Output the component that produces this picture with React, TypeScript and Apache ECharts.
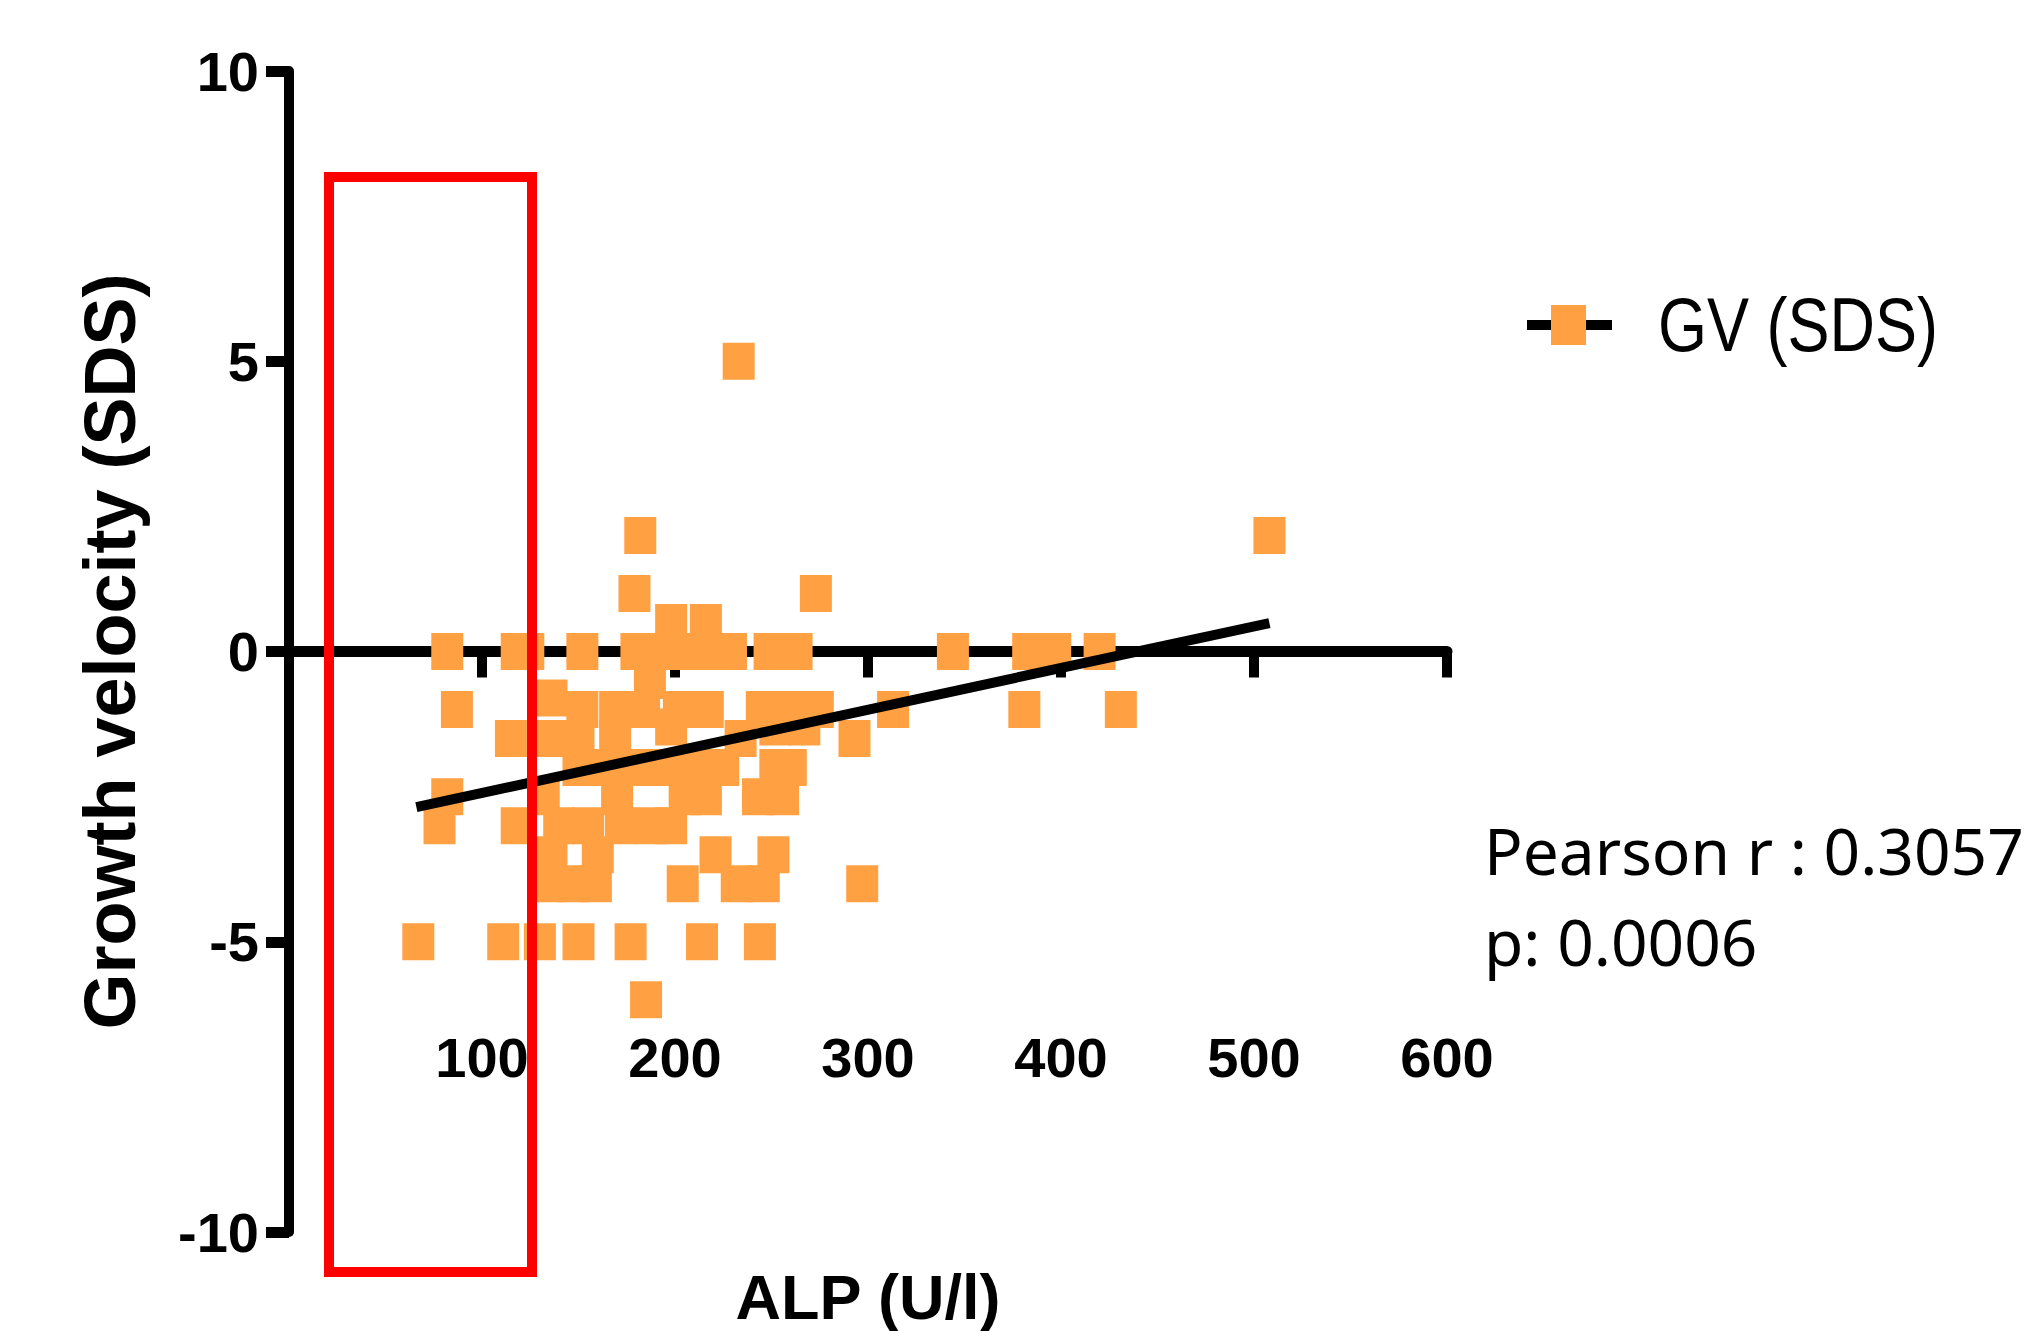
import React, { useEffect, useRef } from 'react';
import * as echarts from 'echarts';

// Axis ranges / ticks
const xTickValues = [0, 100, 200, 300, 400, 500, 600];
const yTickValues = [-10, -5, 0, 5, 10];

// Scatter data, grouped by GV (SDS) level: ALP values at each level
const gvLevels = [5, 2, 1, 0.5, 0, -0.5, -0.8, -1, -1.3, -1.5, -2, -2.5, -3, -3.5, -4, -5, -6];
const alpAtLevel = [
  [233],
  [182, 508],
  [179, 273],
  [198, 216],
  [82, 118, 124, 152, 180, 190, 202, 215, 229, 249, 263, 344, 383, 397, 420],
  [187],
  [136],
  [87, 152, 169, 184, 202, 217, 245, 259, 274, 313, 381, 431],
  [198, 252, 267],
  [115, 136, 150, 169, 234, 293],
  [150, 166, 182, 198, 214, 225, 252, 260],
  [82, 132, 170, 205, 216, 243, 256],
  [78, 118, 140, 155, 172, 188, 198],
  [136, 160, 221, 251],
  [135, 147, 159, 204, 232, 246, 297],
  [67, 111, 130, 150, 177, 214, 244],
  [185],
];

// Linear regression line end points
const fitAlp = [66, 508];
const fitGv = [-2.68, 0.49];

const seriesName = 'GV (SDS)';
const statsLines = ['Pearson r : 0.3057', 'p: 0.0006'];

const ORANGE = '#FFA143';
const SANS = "'Liberation Sans', Arial, sans-serif";

export default function App() {
  const ref = useRef<HTMLDivElement>(null);

  useEffect(() => {
    if (!ref.current) return;
    const chart = echarts.init(ref.current, null, { renderer: 'svg' });

    const scatterData: number[][] = [];
    gvLevels.forEach((g, i) => {
      alpAtLevel[i].forEach((a) => scatterData.push([a, g]));
    });
    const fitData = fitAlp.map((a, i) => [a, fitGv[i]]);

    chart.setOption({
      animation: false,
      backgroundColor: '#ffffff',
      grid: {
        left: 289,
        right: 582,
        top: 71,
        bottom: 99,
        containLabel: false,
        outerBoundsMode: 'none',
      },
      xAxis: {
        type: 'value',
        min: xTickValues[0],
        max: xTickValues[xTickValues.length - 1],
        interval: 100,
        axisLine: { show: true, onZero: true, lineStyle: { color: '#000', width: 11 } },
        axisTick: { show: true, length: 26, lineStyle: { color: '#000', width: 10 } },
        axisLabel: {
          showMinLabel: false,
          margin: -203,
          color: '#000',
          fontFamily: SANS,
          fontWeight: 'bold',
          fontSize: 56,
        },
        splitLine: { show: false },
        name: 'ALP (U/l)',
        nameLocation: 'middle',
        nameGap: 33,
        nameTextStyle: { color: '#000', fontFamily: SANS, fontWeight: 'bold', fontSize: 63 },
      },
      yAxis: {
        type: 'value',
        min: yTickValues[0],
        max: yTickValues[yTickValues.length - 1],
        interval: 5,
        axisLine: { show: true, onZero: true, lineStyle: { color: '#000', width: 10 } },
        axisTick: { show: true, length: 23, lineStyle: { color: '#000', width: 11 } },
        axisLabel: {
          margin: 30,
          color: '#000',
          fontFamily: SANS,
          fontWeight: 'bold',
          fontSize: 56,
        },
        splitLine: { show: false },
        name: 'Growth velocity (SDS)',
        nameLocation: 'middle',
        nameGap: 143,
        nameRotate: 90,
        nameTextStyle: { color: '#000', fontFamily: SANS, fontWeight: 'bold', fontSize: 72 },
      },
      series: [
        {
          name: seriesName,
          type: 'scatter',
          symbol: 'rect',
          symbolSize: [32, 37],
          itemStyle: { color: ORANGE, opacity: 1 },
          data: scatterData,
          z: 2,
        },
        {
          name: 'fit',
          type: 'line',
          data: fitData,
          symbol: 'none',
          showSymbol: false,
          lineStyle: { color: '#000', width: 10 },
          z: 3,
        },
      ],
      graphic: [
        {
          type: 'rect',
          z: 100,
          shape: { x: 329, y: 177, width: 203, height: 1095 },
          style: { fill: 'none', stroke: '#ff0000', lineWidth: 10 },
        },
        {
          type: 'line',
          z: 100,
          shape: { x1: 1527, y1: 325, x2: 1612, y2: 325 },
          style: { stroke: '#000', lineWidth: 10 },
        },
        {
          type: 'rect',
          z: 101,
          shape: { x: 1551, y: 305, width: 35, height: 40 },
          style: { fill: ORANGE },
        },
        {
          type: 'text',
          z: 100,
          x: 1658,
          y: 324,
          scaleY: 1.22,
          style: {
            text: seriesName,
            fill: '#000',
            fontFamily: SANS,
            fontSize: 63,
            fontWeight: 'normal',
            align: 'left',
            verticalAlign: 'middle',
          },
        },
        {
          type: 'text',
          z: 100,
          x: 1484,
          y: 850,
          style: {
            text: statsLines[0],
            fill: '#000',
            fontFamily: "'Noto Sans', 'Open Sans', sans-serif",
            fontSize: 64,
            align: 'left',
            verticalAlign: 'middle',
          },
        },
        {
          type: 'text',
          z: 100,
          x: 1484,
          y: 941,
          style: {
            text: statsLines[1],
            fill: '#000',
            fontFamily: "'Noto Sans', 'Open Sans', sans-serif",
            fontSize: 64,
            align: 'left',
            verticalAlign: 'middle',
          },
        },
      ],
    });

    return () => chart.dispose();
  }, []);

  return (
    <div
      ref={ref}
      style={{ position: 'fixed', left: 0, top: 0, width: 2029, height: 1331, background: '#fff' }}
    />
  );
}
